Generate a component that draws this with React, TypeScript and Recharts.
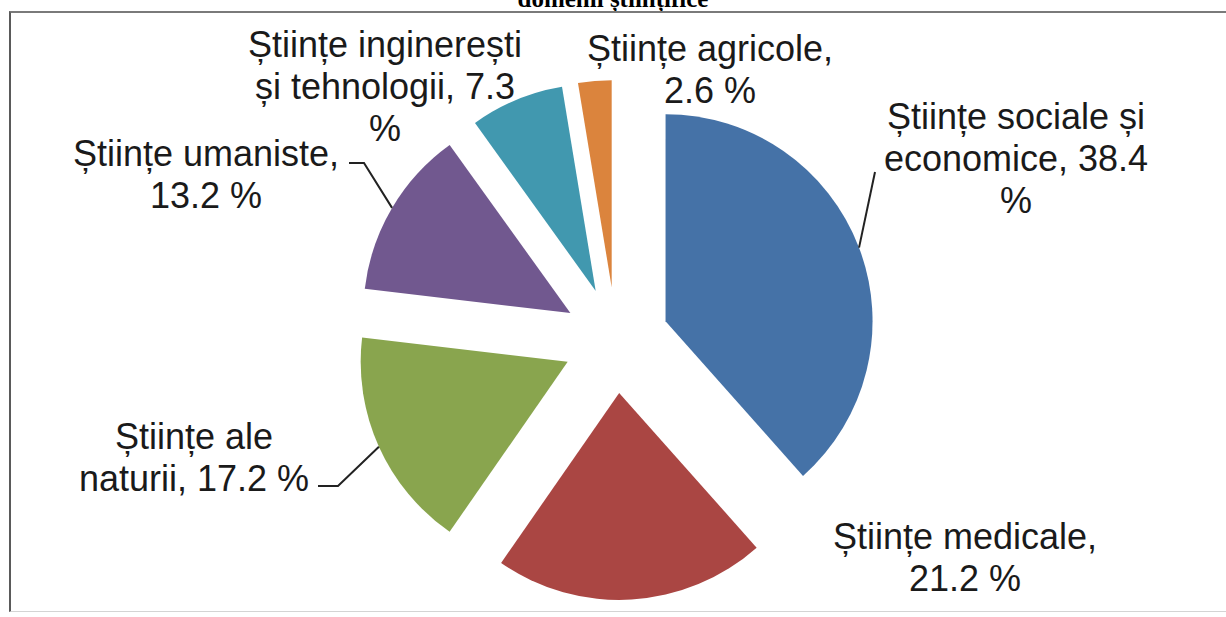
import { PieChart, Pie } from "recharts";

// share of researchers by scientific field (%)
const categories = [
  "Științe sociale și economice",
  "Științe medicale",
  "Științe ale naturii",
  "Științe umaniste",
  "Științe inginerești și tehnologii",
  "Științe agricole",
];
const shares = [38.4, 21.2, 17.2, 13.2, 7.3, 2.6];
const colors = ["#4572A7", "#AA4643", "#89A54E", "#71588F", "#4198AF", "#DB843D"];

// label text, already broken into lines like in the original
const labelTexts = [
  ["Științe sociale și", "economice, 38.4", "%"],
  ["Științe medicale,", "21.2 %"],
  ["Științe ale", "naturii, 17.2 %"],
  ["Științe umaniste,", "13.2 %"],
  ["Științe inginerești", "și tehnologii, 7.3", "%"],
  ["Științe agricole,", "2.6 %"],
];

const title = "domenii științifice";

// layout
const CX = 616;
const CY = 340;
const RADIUS = 207;
const EXPLODE = 53;
const RAD = Math.PI / 180;
const FONT = 36;
const LINE_H = 42;

const labelPos: { x: number; y: number; leader: number[][] | null }[] = [
  { x: 1016, y: 129, leader: [[875, 172]] },
  { x: 965, y: 549, leader: null },
  { x: 194, y: 449, leader: [[338, 486], [318, 486]] },
  { x: 206, y: 166, leader: [[364, 163], [349, 163]] },
  { x: 385, y: 57, leader: null },
  { x: 710, y: 61, leader: null },
];

const total = shares.reduce((a, b) => a + b, 0);

const slices = shares.map((v, i) => {
  const before = shares.slice(0, i).reduce((a, b) => a + b, 0);
  const startAngle = 90 - (before / total) * 360;
  const endAngle = 90 - ((before + v) / total) * 360;
  const mid = (startAngle + endAngle) / 2;
  return {
    name: categories[i],
    value: v,
    startAngle,
    endAngle,
    cx: CX + EXPLODE * Math.cos(mid * RAD),
    cy: CY - EXPLODE * Math.sin(mid * RAD),
  };
});

const makeLabel = (i: number) => (props: any) => {
  const { cx, cy, midAngle, outerRadius } = props;
  const pos = labelPos[i];
  const ax = cx + outerRadius * Math.cos(-midAngle * RAD);
  const ay = cy + outerRadius * Math.sin(-midAngle * RAD);
  const pts = pos.leader ? [[ax, ay], ...pos.leader].map((p) => p.join(",")).join(" ") : null;
  return (
    <g>
      {pts && <polyline points={pts} fill="none" stroke="#222" strokeWidth={2} />}
      <text
        textAnchor="middle"
        fill="#1a1a1a"
        fontSize={FONT}
        fontFamily="'Liberation Sans', Arial, sans-serif"
      >
        {labelTexts[i].map((line, k) => (
          <tspan key={k} x={pos.x} y={pos.y + k * LINE_H}>
            {line}
          </tspan>
        ))}
      </text>
    </g>
  );
};

export default function App() {
  return (
    <div
      style={{
        position: "fixed",
        left: 0,
        top: 0,
        width: 1226,
        height: 617,
        background: "#fff",
        overflow: "hidden",
      }}
    >
      <div
        style={{
          position: "absolute",
          top: -14,
          left: 0,
          width: 1226,
          textAlign: "center",
          fontFamily: "'Liberation Serif', 'Times New Roman', serif",
          fontWeight: 700,
          fontSize: 25,
          lineHeight: "25px",
          color: "#000",
        }}
      >
        {title}
      </div>
      <div
        style={{
          position: "absolute",
          left: 9,
          top: 11,
          width: 1240,
          height: 598,
          borderTop: "2px solid #7a7a7a",
          borderLeft: "2px solid #5a5a5a",
          borderBottom: "1px solid #d4d4d4",
        }}
      />
      <div style={{ position: "absolute", left: 0, top: 0 }}>
        <PieChart width={1226} height={617} margin={{ top: 0, right: 0, bottom: 0, left: 0 }}>
          {slices.map((s, i) => (
            <Pie
              key={s.name}
              data={[{ name: s.name, value: s.value }]}
              dataKey="value"
              nameKey="name"
              cx={s.cx}
              cy={s.cy}
              innerRadius={0}
              outerRadius={RADIUS}
              startAngle={s.startAngle}
              endAngle={s.endAngle}
              fill={colors[i]}
              stroke="none"
              label={makeLabel(i)}
              labelLine={false}
              isAnimationActive={false}
            />
          ))}
        </PieChart>
      </div>
    </div>
  );
}
